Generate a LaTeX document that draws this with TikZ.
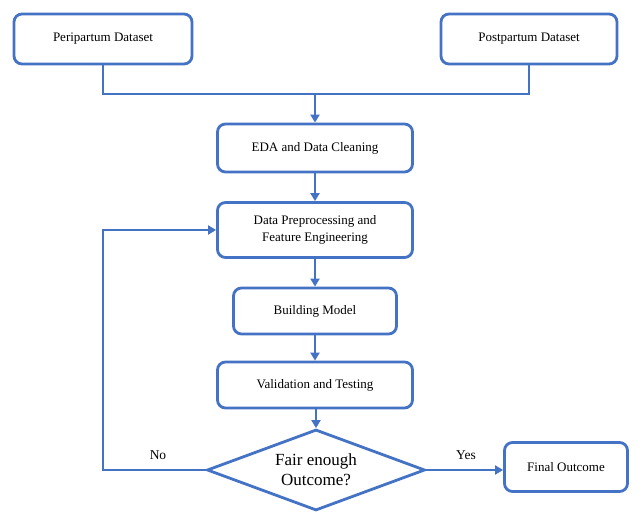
\documentclass[tikz,border=0pt]{standalone}
\usepackage{fontspec}
\setmainfont{Liberation Serif}
\usetikzlibrary{shapes.geometric, arrows.meta}
\definecolor{flowblue}{HTML}{4472C4}
\tikzset{
  stepbox/.style={draw=flowblue, line width=2.8pt, rounded corners=8pt, fill=white,
    align=center, inner sep=2pt, font=\fontsize{13}{17}\selectfont},
  decision/.style={draw=flowblue, line width=2.8pt, diamond, shape aspect=2.7, align=center,
    inner sep=0pt, minimum width=218pt, minimum height=81pt, font=\fontsize{17}{20}\selectfont},
  flow/.style={draw=flowblue, line width=2.8pt},
  flowarrow/.style={flow, -{Triangle[length=8pt, width=9pt]}},
  choice/.style={font=\fontsize{13.5}{16}\selectfont}
}
\begin{document}
\begin{tikzpicture}[x=1pt, y=-1pt]
    \useasboundingbox (0,0) rectangle (641,526);
    % Datasets
    \node[stepbox, minimum width=178pt, minimum height=50pt] (peri) at (103,39) {Peripartum Dataset};
    \node[stepbox, minimum width=176pt, minimum height=50pt] (post) at (529,39) {Postpartum Dataset};
    \coordinate (join) at (315,94);

    % Main steps
    \node[stepbox, minimum width=195pt, minimum height=48pt] (eda) at (315,148) {EDA and Data Cleaning};
    \node[stepbox, minimum width=195pt, minimum height=55pt] (prep) at (315,230) {Data Preprocessing and\\Feature Engineering};
    \node[stepbox, minimum width=163pt, minimum height=46pt] (build) at (315,311) {Building Model};
    \node[stepbox, minimum width=195pt, minimum height=46pt] (valid) at (315,385) {Validation and Testing};
    \node[decision] (fair) at (316,470) {Fair enough\\Outcome?};
    \node[stepbox, minimum width=123pt, minimum height=49pt] (final) at (566,467) {Final Outcome};

    % Connectors
    \draw[flow] (peri.south) |- (join) -| (post.south);
    \draw[flowarrow] (join) -- (eda.north);
    \draw[flowarrow] (eda.south) -- (prep.north);
    \draw[flowarrow] (prep.south) -- (build.north);
    \draw[flowarrow] (build.south) -- (valid.north);
    \draw[flowarrow] (valid.south -| fair.north) -- (fair.north);
    \draw[flowarrow] (fair.west) -- (103,470) |- (prep.west);
    \draw[flowarrow] (fair.east) -- (final.west |- fair.east);

    % Choices
    \node[choice] (no) at (158,455) {No};
    \node[choice] (yes) at (466,455) {Yes};
  \end{tikzpicture}
\end{document}
